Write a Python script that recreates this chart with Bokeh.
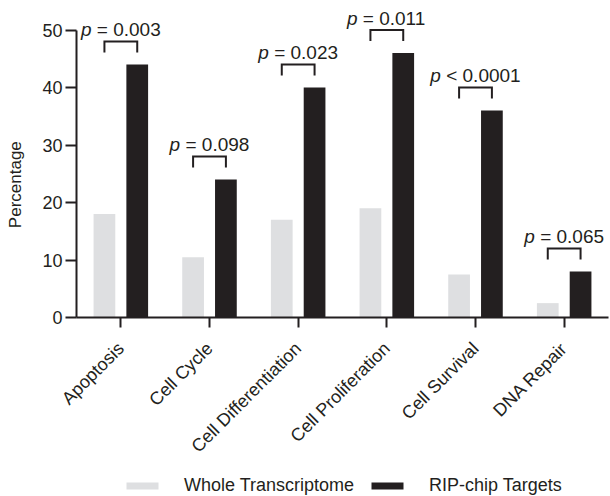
import math
from bokeh.plotting import figure
from bokeh.models import FixedTicker, Range1d, ColumnDataSource, Legend, LegendItem
from bokeh.core.properties import value
from bokeh.embed import file_html
from bokeh.resources import INLINE

categories = ["Apoptosis", "Cell Cycle", "Cell Differentiation",
              "Cell Proliferation", "Cell Survival", "DNA Repair"]
whole_transcriptome = [18.0, 10.5, 17.0, 19.0, 7.5, 2.5]
rip_chip_targets = [44.0, 24.0, 40.0, 46.0, 36.0, 8.0]
p_labels = ["= 0.003", "= 0.098", "= 0.023", "= 0.011", "< 0.0001", "= 0.065"]
y_ticks = [0, 10, 20, 30, 40, 50]
series_names = ["Whole Transcriptome", "RIP-chip Targets"]
y_title = "Percentage"

FONT = "Liberation Sans"
DARK = "#231f20"
GRAY = "#dedfe1"

n = len(categories)
centers = [i + 0.5 for i in range(n)]
off = 0.185
bw = 0.245

# frame covers whole canvas; axes are pinned at x=0 / y=0 inside it
PX_X = 532 / n          # px per category
PX_Y = 5.75             # px per percent
X0, Y0 = 76, 317        # pixel position of the axes origin
x_start = -X0 / PX_X
x_end = (610 - X0) / PX_X
y_end = (Y0 - 8) / PX_Y + 0.0
y_start = -(496 - Y0) / PX_Y

p = figure(width=610, height=496, output_backend="svg",
           toolbar_location=None, x_range=Range1d(x_start, x_end),
           y_range=Range1d(-(496 - Y0) / PX_Y, Y0 / PX_Y),
           min_border_left=0, min_border_right=0, min_border_top=0,
           min_border_bottom=0)
p.outline_line_color = None
p.xgrid.visible = False
p.ygrid.visible = False
p.background_fill_color = "white"
p.border_fill_color = "white"

src = ColumnDataSource(dict(
    xg=[c - off for c in centers], xb=[c + off for c in centers],
    wt=whole_transcriptome, rt=rip_chip_targets))
r1 = p.vbar(x="xg", top="wt", width=bw, bottom=0, source=src,
            fill_color=GRAY, line_color=None)
r2 = p.vbar(x="xb", top="rt", width=bw, bottom=0, source=src,
            fill_color=DARK, line_color=None)

# significance brackets
xs, ys = [], []
for c, b in zip(centers, rip_chip_targets):
    xs.append([c - off, c - off, c + off, c + off])
    ys.append([b + 2.1, b + 4.0, b + 4.0, b + 2.1])
p.multi_line(xs=xs, ys=ys, line_color=DARK, line_width=2, line_join="miter")

# p-value labels (italic p + regular rest), centred on group
AW = {'0': .556, '1': .556, '2': .556, '3': .556, '4': .556, '5': .556,
      '6': .556, '7': .556, '8': .556, '9': .556, '.': .278, ' ': .278,
      '=': .584, '<': .584, 'p': .556}
fs = 19
lead = (AW['p'] + AW[' ']) * fs
widths = [lead + sum(AW[ch] for ch in r) * fs for r in p_labels]
tsrc = ColumnDataSource(dict(
    x=centers, y=[b + 4.0 for b in rip_chip_targets],
    pt=["p"] * n, rest=p_labels,
    xo_p=[-w / 2 for w in widths],
    xo_r=[-w / 2 + lead for w in widths]))
p.text(x="x", y="y", text="pt", x_offset="xo_p", y_offset=-12, source=tsrc,
       text_font=value(FONT), text_font_size=f"{fs}px", text_font_style="italic",
       text_align="left", text_baseline="alphabetic", text_color=DARK)
p.text(x="x", y="y", text="rest", x_offset="xo_r", y_offset=-12, source=tsrc,
       text_font=value(FONT), text_font_size=f"{fs}px",
       text_align="left", text_baseline="alphabetic", text_color=DARK)

# y-axis title
p.text(x=[0], y=[23.1], text=[y_title], x_offset=-61, angle=math.pi / 2,
       text_font=value(FONT), text_font_size="17px", text_align="center",
       text_baseline="middle", text_color=DARK)

# axes
xa = p.xaxis[0]
xa.fixed_location = 0
xa.ticker = FixedTicker(ticks=centers)
xa.major_label_overrides = {c: lab for c, lab in zip(centers, categories)}
xa.major_label_orientation = math.pi / 4
xa.minor_tick_line_color = None
xa.major_tick_in = 0
xa.major_tick_out = 10
xa.major_tick_line_width = 2
xa.major_tick_line_color = DARK
xa.axis_line_width = 2
xa.axis_line_color = DARK
xa.major_label_text_font = FONT
xa.major_label_text_font_size = "18px"
xa.major_label_text_color = DARK
xa.major_label_standoff = 18
xa.bounds = (0, n)

ya = p.yaxis[0]
ya.fixed_location = 0
ya.ticker = FixedTicker(ticks=y_ticks)
ya.minor_tick_line_color = None
ya.major_tick_in = 0
ya.major_tick_out = 11
ya.major_tick_line_width = 2
ya.major_tick_line_color = DARK
ya.axis_line_width = 2
ya.axis_line_color = DARK
ya.major_label_text_font = FONT
ya.major_label_text_font_size = "18px"
ya.major_label_text_color = DARK
ya.major_label_standoff = 3
ya.bounds = (0, 50)

legend = Legend(items=[LegendItem(label=series_names[0], renderers=[r1]),
                       LegendItem(label=series_names[1], renderers=[r2])],
                orientation="horizontal", location=(122, 0),
                glyph_width=40, glyph_height=9, label_standoff=22, spacing=13,
                label_height=20,
                label_text_font=FONT, label_text_font_size="18px",
                label_text_color=DARK, border_line_color=None,
                background_fill_alpha=0, padding=0, margin=0)
p.add_layout(legend, "center")

open("out.html", "w").write(file_html(p, INLINE))
